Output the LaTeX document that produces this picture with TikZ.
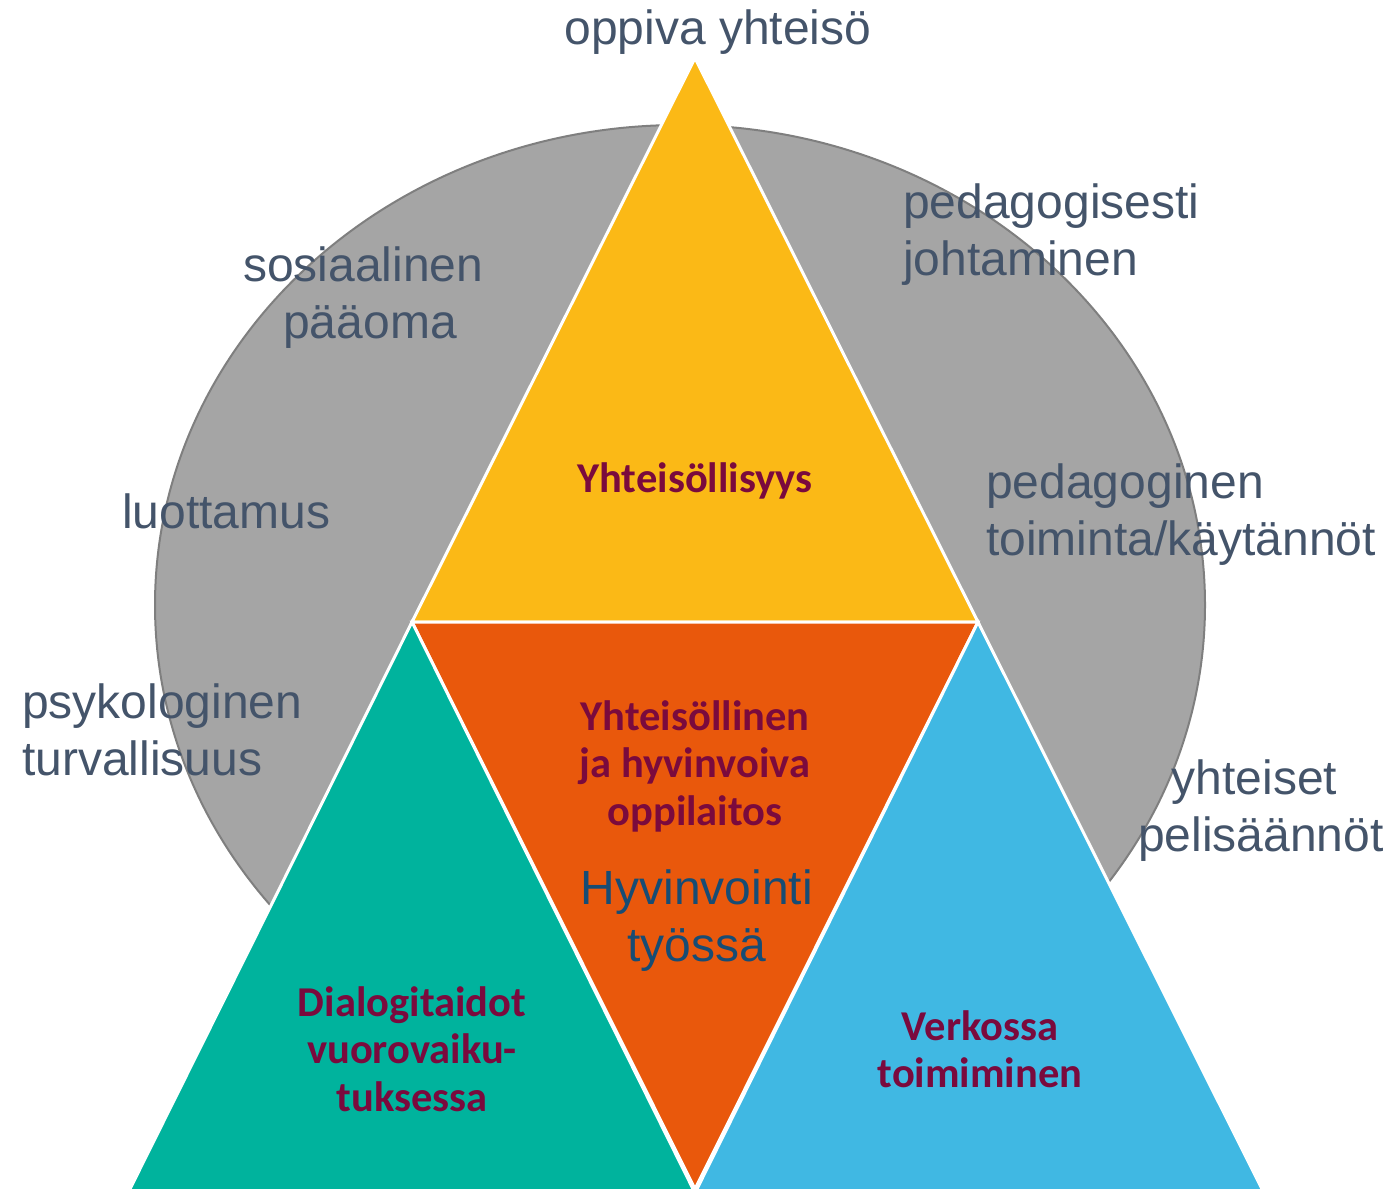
\documentclass[tikz,border=0pt]{standalone}
\usepackage{fontspec}
\usetikzlibrary{calc}
\setmainfont{Liberation Sans}
\newfontfamily\boldlab{Carlito}
\definecolor{labgray}{HTML}{44546A}
\definecolor{labbold}{HTML}{7A0A3D}
\definecolor{labblue}{HTML}{174C74}
\definecolor{circfill}{HTML}{A5A5A5}
\definecolor{circline}{HTML}{7F7F7F}
\definecolor{cyellow}{HTML}{FBB916}
\definecolor{corange}{HTML}{E9580C}
\definecolor{cgreen}{HTML}{00B39D}
\definecolor{cblue}{HTML}{40B8E3}
\tikzset{
  graylab/.style={text=labgray, font=\fontsize{48}{57}\selectfont, inner sep=0pt},
  boldlab/.style={text=labbold, font=\boldlab\bfseries\fontsize{42.5}{47.5}\selectfont, inner sep=0pt, align=center},
  bluelab/.style={text=labblue, font=\fontsize{48}{57}\selectfont, inner sep=0pt, align=center},
  tri/.style={draw=white, line width=3pt, line join=miter},
}
\begin{document}
\begin{tikzpicture}[x=1pt, y=-1pt]
\useasboundingbox (0,0) rectangle (1398,1189);
\clip (0,0) rectangle (1398,1189);
% circle
\draw[fill=circfill, draw=circline, line width=2pt] (680,605) ellipse [x radius=525pt, y radius=480pt];
% corner coordinates
\coordinate (top) at (695,58);
\coordinate (ml) at (412,622);
\coordinate (mr) at (978,622);
\coordinate (bm) at (695,1189);
\coordinate (bl) at (130,1189);
\coordinate (br) at (1262,1189);
% triangles
\draw[tri, fill=cyellow] (top) -- (ml) -- (mr) -- cycle;
\draw[tri, fill=corange] (ml) -- (mr) -- (bm) -- cycle;
\draw[tri, fill=cgreen] (ml) -- ($(bl)+(-2,4)$) -- ($(bm)+(0,4)$) -- cycle;
\draw[tri, fill=cblue] (mr) -- ($(bm)+(0,4)$) -- ($(br)+(2,4)$) -- cycle;
% gray labels
\node[graylab] (l1) at (718,32) {oppiva yhteisö};
\node[graylab, align=center] (l2) at (370,298) {sosiaalinen\hphantom{\ }\\pääoma};
\node[graylab, align=left, anchor=west] (l3) at (903,235) {pedagogisesti\\johtaminen};
\node[graylab, anchor=west] (l4) at (122,511) {luottamus};
\node[graylab, align=left, anchor=west] (l5) at (986,515) {pedagoginen\\toiminta/käytännöt};
\node[graylab, align=left, anchor=west] (l6) at (22,730) {psykologinen\\turvallisuus};
\node[graylab, align=center] (l7) at (1261,811) {yhteiset\hphantom{\ }\\pelisäännöt};
% bold labels
\node[boldlab] (b1) at (695,481) {Yhteisöllisyys};
\node[boldlab] (b2) at (695,766) {Yhteisöllinen\\ja hyvinvoiva\\oppilaitos};
\node[bluelab] (b3) at (697,921) {Hyvinvointi\\työssä};
\node[boldlab] (b4) at (412,1049) {Dialogitaidot\\vuorovaiku-\\tuksessa};
\node[boldlab] (b5) at (980,1049) {Verkossa\\toimiminen};
\end{tikzpicture}
\end{document}
